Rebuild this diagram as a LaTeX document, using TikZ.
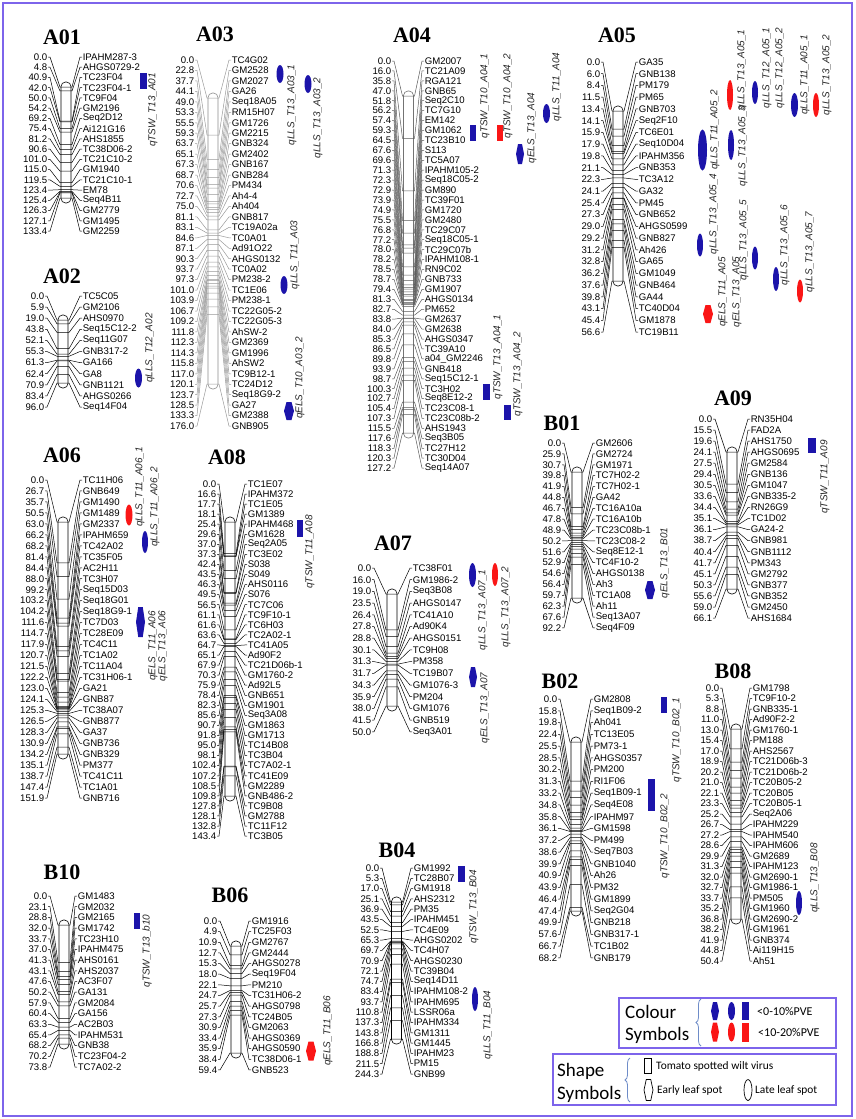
\documentclass[tikz,border=0pt]{standalone}
\usepackage{fontspec}
\setmainfont{Liberation Sans}
\newfontfamily\ttlfont{Liberation Serif}
\newfontfamily\legfont{Carlito}
\usetikzlibrary{shapes.geometric,decorations.pathreplacing}
\definecolor{qblue}{RGB}{28,20,170}
\definecolor{qred}{RGB}{250,22,22}
\definecolor{framecol}{RGB}{125,100,235}
\definecolor{bracecol}{RGB}{110,140,200}
\tikzset{
 num/.style={font=\fontsize{9.6}{10}\selectfont, inner sep=0.6pt, anchor=east},
 mkr/.style={font=\fontsize{9.6}{10}\selectfont, inner sep=0.6pt, anchor=west},
 ttl/.style={font=\ttlfont\bfseries\fontsize{22}{24}\selectfont, inner sep=0pt},
 chrline/.style={line width=0.5pt, black},
 chrbar/.style={line width=0.6pt, black, fill=white, rounded corners=4.5pt},
 qlab/.style={font=\itshape\fontsize{10}{11}\selectfont, rotate=90, inner sep=0pt, text=black!85},
 qrect/.style={rectangle, fill=#1, draw=none, inner sep=0pt},
 qell/.style={ellipse, fill=#1, draw=none, inner sep=0pt},
 leg/.style={font=\legfont\fontsize{19}{20}\selectfont, inner sep=0pt, anchor=west},
 legs/.style={font=\legfont\fontsize{12}{13}\selectfont, inner sep=0pt, anchor=west},
 legt/.style={font=\legfont\fontsize{11.4}{12}\selectfont, inner sep=0pt, anchor=west},
 legbox/.style={draw=framecol, line width=1.3pt},
 brc/.style={draw=bracecol, line width=0.8pt, decorate, decoration={brace, amplitude=5pt}},
}
% #1 id, #2 number right x, #3 bar centre x, #4 label left x, #5 first row y, #6 row step, #7 bar top, #8 bar bottom, #9 max cM
\newcommand\chromo[9]{%
  \draw[chrbar] (#3-5,#7-5) rectangle (#3+5,#8+5);
  \foreach \cm/\nm [count=\i] in \mk {%
    \pgfmathsetmacro\yr{#5+(\i-1)*#6}%
    \pgfmathsetmacro\yb{#7+\cm/#9*(#8-#7)}%
    \node[num] (#1n\i) at (#2,\yr) {\cm};
    \node[mkr] (#1m\i) at (#4,\yr) {\nm};
    \draw[chrline] (#1n\i.east) -- ++(2,0) -- (#3-6,\yb) -- (#3+6,\yb) -- ([xshift=-2pt]#1m\i.west) -- (#1m\i.west);
  }%
}
\newcommand\hexq[6]{% name, x, y, w, h, style
  \coordinate (#1) at (#2,#3);
  \path[#6] (#2-#4/2,#3) -- (#2-#4/4,#3-#5/2) -- (#2+#4/4,#3-#5/2) -- (#2+#4/2,#3) -- (#2+#4/4,#3+#5/2) -- (#2-#4/4,#3+#5/2) -- cycle;
}
\begin{document}
\begin{tikzpicture}[x=1pt,y=-1pt]
\useasboundingbox (0,0) rectangle (855,1119);
\draw[framecol, line width=1.5pt] (3,3) rectangle (852,1116);

% ---------------- A01
\node[ttl] (tA01) at (62,37) {A01};
\def\mk{0.0/IPAHM287-3,4.8/AHGS0729-2,40.9/TC23F04,42.0/TC23F04-1,50.0/TC9F04,54.2/GM2196,69.2/Seq2D12,75.4/Ai121G16,81.2/AHS1855,90.6/TC38D06-2,101.0/TC21C10-2,115.0/GM1940,119.5/TC21C10-1,123.4/EM78,125.4/Seq4B11,126.3/GM2779,127.1/GM1495,133.4/GM2259}
\chromo{A01}{48}{66}{82}{57}{10.24}{87}{198}{133.4}
\node[qrect=qblue, minimum width=7pt, minimum height=16pt] (sA01) at (143.5,81) {};
\node[qlab] (lA01) at (153,110) {qTSW\_T13\_A01};

% ---------------- A02
\node[ttl] (tA02) at (62,276) {A02};
\def\mk{0.0/TC5C05,5.9/GM2106,19.0/AHS0970,43.8/Seq15C12-2,52.1/Seq11G07,55.3/GNB317-2,61.3/GA166,62.4/GA8,70.9/GNB1121,83.4/AHGS0266,96.0/Seq14F04}
\chromo{A02}{45}{63}{82}{296}{11.1}{320}{383}{96.0}
\node[qell=qblue, minimum width=7pt, minimum height=19pt] (sA02) at (138.5,378) {};
\node[qlab] (lA02) at (150,348) {qLLS\_T12\_A02};

% ---------------- A03
\node[ttl] (tA03) at (215,34) {A03};
\begin{scope}[chrline/.style={line width=0.5pt, black!40}, chrbar/.style={line width=0.6pt, black!45, fill=white, rounded corners=4.5pt}]
\def\mk{0.0/TC4G02,22.8/GM2528,37.7/GM2027,44.1/GA26,49.0/Seq18A05,53.3/RM15H07,55.5/GM1726,59.3/GM2215,63.7/GNB324,65.1/GM2402,67.3/GNB167,68.7/GNB284,70.6/PM434,72.7/Ah4-4,75.0/Ah404,81.1/GNB817,83.1/TC19A02a,84.6/TC0A01,87.1/Ad91O22,90.3/AHGS0132,93.7/TC0A02,97.3/PM238-2,101.0/TC1E06,103.9/PM238-1,106.7/TC22G05-2,109.2/TC22G05-3,111.8/AhSW-2,112.3/GM2369,114.3/GM1996,115.8/AhSW2,117.0/TC9B12-1,120.1/TC24D12,123.7/Seq18G9-2,128.5/GA27,133.3/GM2388,176.0/GNB905}
\chromo{A03}{195}{213}{231}{60}{10.46}{98}{384}{176.0}
\end{scope}
\node[qell=qblue, minimum width=7pt, minimum height=18pt] (sA03a) at (280,74) {};
\node[qlab] (lA03a) at (292,105) {qLLS\_T13\_A03\_1};
\node[qell=qblue, minimum width=7pt, minimum height=18pt] (sA03b) at (308,84) {};
\node[qlab] (lA03b) at (318,118) {qLLS\_T13\_A03\_2};
\node[qell=qblue, minimum width=7pt, minimum height=18pt] (sA03c) at (284,285) {};
\node[qlab] (lA03c) at (295,255) {qLLS\_T11\_A03};
\hexq{sA03d}{289}{411}{10}{18}{fill=qblue}
\node[qlab] (lA03d) at (300,378) {qELS\_T10\_A03\_2};

% ---------------- A04
\node[ttl] (tA04) at (412,35) {A04};
\begin{scope}[chrline/.style={line width=0.5pt, black!65}, chrbar/.style={line width=0.6pt, black!55, fill=white, rounded corners=4.5pt}]
\def\mk{0.0/GM2007,16.0/TC21A09,35.8/RGA121,47.0/GNB65,51.8/Seq2C10,56.2/TC7G10,57.4/EM142,59.3/GM1062,64.5/TC23B10,67.6/S113,69.6/TC5A07,71.3/IPAHM105-2,72.3/Seq18C05-2,72.9/GM890,73.9/TC39F01,74.9/GM1720,75.5/GM2480,76.8/TC29C07,77.2/Seq18C05-1,78.0/TC29C07b,78.2/IPAHM108-1,78.5/RN9C02,78.7/GNB733,79.4/GM1907,81.3/AHGS0134,82.7/PM652,83.8/GM2637,84.0/GM2638,85.3/AHGS0347,86.5/TC39A10,89.8/a04\_GM2246,93.9/GNB418,98.7/Seq15C12-1,100.3/TC3H02,102.7/Seq8E12-2,105.4/TC23C08-1,107.3/TC23C08b-2,115.5/AHS1943,117.6/Seq3B05,118.3/TC27H12,120.3/TC30D04,127.2/Seq14A07}
\chromo{A04}{392}{408.5}{424}{61}{9.93}{96}{433}{127.2}
\end{scope}
\node[qrect=qblue, minimum width=6pt, minimum height=16pt] (sA04a) at (473,133) {};
\node[qlab] (lA04a) at (485,96) {qTSW\_T10\_A04\_1};
\node[qrect=qred, minimum width=6pt, minimum height=16pt] (sA04b) at (499.5,133) {};
\node[qlab] (lA04b) at (508,96) {qTSW\_T10\_A04\_2};
\hexq{sA04c}{520}{154}{8}{20}{fill=qblue}
\node[qlab] (lA04c) at (532,128) {qELS\_T13\_A04};
\node[qell=qblue, minimum width=7pt, minimum height=19pt] (sA04d) at (546.5,113.5) {};
\node[qlab] (lA04d) at (557,87) {qLLS\_T11\_A04};
\node[qrect=qblue, minimum width=7pt, minimum height=16pt] (sA04e) at (486.5,392) {};
\node[qlab] (lA04e) at (498,357) {qTSW\_T13\_A04\_1};
\node[qrect=qblue, minimum width=7pt, minimum height=15pt] (sA04f) at (507.5,412.5) {};
\node[qlab] (lA04f) at (518,374) {qTSW\_T13\_A04\_2};

% ---------------- A05
\node[ttl] (tA05) at (617,35) {A05};
\def\mk{0.0/GA35,6.0/GNB138,8.4/PM179,11.5/PM65,13.4/GNB703,14.1/Seq2F10,15.9/TC6E01,17.9/Seq10D04,19.8/IPAHM356,21.1/GNB353,22.3/TC3A12,24.1/GA32,25.4/PM45,27.3/GNB652,29.0/AHGS0599,29.2/GNB827,31.2/Ah426,32.8/GA65,36.2/GM1049,37.6/GNB464,39.8/GA44,43.1/TC40D04,45.4/GM1878,56.6/TC19B11}
\chromo{A05}{601}{618}{638}{62}{11.74}{111}{281}{56.6}
\node[qell=qred, minimum width=6pt, minimum height=30pt] (sA05a) at (730,95) {};
\node[qlab] (lA05a) at (742,70) {qLLS\_T13\_A05\_1};
\node[qell=qblue, minimum width=6pt, minimum height=23pt] (sA05b) at (755,92.5) {};
\node[qlab] (lA05b) at (767,68) {qLLS\_T12\_A05\_1};
\node[qlab] (lA05c) at (780,68) {qLLS\_T12\_A05\_2};
\node[qell=qblue, minimum width=7pt, minimum height=24pt] (sA05d) at (794.5,105) {};
\node[qlab] (lA05d) at (805,75) {qLLS\_T11\_A05\_1};
\node[qell=qred, minimum width=6pt, minimum height=24pt] (sA05e) at (816,105) {};
\node[qlab] (lA05e) at (827,75) {qLLS\_T13\_A05\_2};
\node[qell=qblue, minimum width=9pt, minimum height=41pt] (sA05f) at (702.5,150) {};
\node[qlab] (lA05f) at (715,130) {qLLS\_T11\_A05\_2};
\node[qell=qblue, minimum width=6pt, minimum height=30pt] (sA05g) at (731,145) {};
\node[qlab] (lA05g) at (743,146) {qLLS\_T13\_A05\_3};
\node[qell=qblue, minimum width=6pt, minimum height=23pt] (sA05h) at (700,245) {};
\node[qlab] (lA05h) at (714,214) {qLLS\_T13\_A05\_4};
\node[qell=qblue, minimum width=6pt, minimum height=23pt] (sA05i) at (755,258) {};
\node[qlab] (lA05i) at (744,240) {qLLS\_T13\_A05\_5};
\node[qell=qblue, minimum width=6pt, minimum height=24pt] (sA05j) at (776,279) {};
\node[qlab] (lA05j) at (785,245) {qLLS\_T13\_A05\_6};
\node[qell=qred, minimum width=6pt, minimum height=23pt] (sA05k) at (800,291) {};
\node[qlab] (lA05k) at (810,252) {qLLS\_T13\_A05\_7};
\hexq{sA05l}{708}{314}{10}{18}{fill=qred}
\node[qlab] (lA05l) at (723,292) {qELS\_T11\_A05};
\node[qlab] (lA05m) at (737,292) {qELS\_T13\_A05};

% ---------------- A06
\node[ttl] (tA06) at (62,455) {A06};
\def\mk{0.0/TC11H06,26.7/GNB649,35.7/GM1490,50.5/GM1489,63.0/GM2337,66.2/IPAHM659,68.2/TC42A02,81.4/TC35F05,84.4/AC2H11,88.0/TC3H07,99.2/Seq15D03,103.2/Seq18G01,104.2/Seq18G9-1,111.6/TC7D03,114.7/TC28E09,117.9/TC4C11,120.7/TC1A02,121.5/TC11A04,122.2/TC31H06-1,123.0/GA21,124.1/GNB87,125.3/TC38A07,126.5/GNB877,128.3/GA37,130.9/GNB736,134.2/GNB329,135.1/PM377,138.7/TC41C11,147.4/TC1A01,151.9/GNB716}
\chromo{A06}{45}{63}{82}{480}{10.97}{522}{754}{151.9}
\node[qell=qred, minimum width=7pt, minimum height=21pt] (sA06a) at (129,515) {};
\node[qlab] (lA06a) at (140,487) {qLLS\_T11\_A06\_1};
\node[qell=qblue, minimum width=6pt, minimum height=22pt] (sA06b) at (145,542) {};
\node[qlab] (lA06b) at (155,507) {qLLS\_T11\_A06\_2};
\hexq{sA06c}{140.5}{622}{9}{30}{fill=qblue}
\node[qlab] (lA06c) at (153,646) {qELS\_T11\_A06};
\node[qlab] (lA06d) at (163,646) {qELS\_T13\_A06};

% ---------------- A07
\node[ttl] (tA07) at (393,543) {A07};
\def\mk{0.0/TC38F01,16.0/GM1986-2,19.0/Seq3B08,23.5/AHGS0147,26.4/TC41A10,27.8/Ad90K4,28.8/AHGS0151,30.1/TC9H08,31.3/PM358,31.7/TC19B07,34.3/GM1076-3,35.9/PM204,38.0/GM1076,41.5/GNB519,50.0/Seq3A01}
\chromo{A07}{372}{392}{412}{568}{11.7}{594}{706}{50.0}
\node[qell=qblue, minimum width=7pt, minimum height=24pt] (sA07a) at (472.5,575) {};
\node[qlab] (lA07a) at (483,610) {qLLS\_T13\_A07\_1};
\node[qell=qred, minimum width=6pt, minimum height=23pt] (sA07b) at (495,574.5) {};
\node[qlab] (lA07b) at (506,607) {qLLS\_T13\_A07\_2};
\hexq{sA07c}{473}{677}{8}{20}{fill=qblue}
\node[qlab] (lA07c) at (485,708) {qELS\_T13\_A07};

% ---------------- A08
\node[ttl] (tA08) at (227,457) {A08};
\def\mk{0.0/TC1E07,16.6/IPAHM372,17.7/TC1E05,18.1/GM1389,25.4/IPAHM468,29.6/GM1628,37.0/Seq2A05,37.3/TC3E02,42.4/S038,43.5/S049,46.3/AHS0116,49.5/S076,56.5/TC7C06,61.1/TC9F10-1,61.6/TC6H03,63.6/TC2A02-1,64.7/TC41A05,65.1/Ad90F2,67.9/TC21D06b-1,70.3/GM1760-2,75.9/Ad92L5,78.4/GNB651,82.3/GM1901,85.6/Seq3A08,90.7/GM1863,91.8/GM1713,95.0/TC14B08,98.1/TC3B04,102.4/TC7A02-1,107.2/TC41E09,108.5/GM2289,109.8/GNB486-2,127.8/TC9B08,128.1/GM2788,132.8/TC11F12,143.4/TC3B05}
\chromo{A08}{217}{230}{247}{484}{10.06}{522}{796}{143.4}
\node[qrect=qblue, minimum width=6pt, minimum height=17pt] (sA08) at (300,528.5) {};
\node[qlab] (lA08) at (310,552) {qTSW\_T11\_A08};

% ---------------- A09
\node[ttl] (tA09) at (733,398) {A09};
\def\mk{0.0/RN35H04,15.5/FAD2A,19.6/AHS1750,24.1/AHGS0695,27.5/GM2584,29.4/GNB136,30.5/GM1047,33.6/GNB335-2,34.4/RN26G9,35.1/TC1D02,36.1/GA24-2,38.7/GNB981,40.4/GNB1112,41.7/PM343,45.1/GM2792,50.3/GNB377,55.6/GNB352,59.0/GM2450,66.1/AHS1684}
\chromo{A09}{713}{732}{750}{419}{11.06}{452}{589}{66.1}
\node[qrect=qblue, minimum width=8pt, minimum height=15pt] (sA09) at (812,445.5) {};
\node[qlab] (lA09) at (825,477) {qTSW\_T11\_A09};

% ---------------- B01
\node[ttl] (tB01) at (562,423) {B01};
\def\mk{0.0/GM2606,25.9/GM2724,30.7/GM1971,39.8/TC7H02-2,41.9/TC7H02-1,44.8/GA42,46.7/TC16A10a,47.8/TC16A10b,48.9/TC23C08b-1,50.2/TC23C08-2,51.6/Seq8E12-1,52.9/TC4F10-2,54.6/AHGS0138,56.4/Ah3,59.7/TC1A08,62.3/Ah11,67.6/Seq13A07,92.2/Seq4F09}
\chromo{B01}{562}{577}{595}{443}{10.88}{472}{598}{92.2}
\hexq{sB01}{650}{590}{10}{18}{fill=qblue}
\node[qlab] (lB01) at (665,563) {qELS\_T13\_B01};

% ---------------- B02
\node[ttl] (tB02) at (560,681) {B02};
\def\mk{0.0/GM2808,15.8/Seq1B09-2,19.8/Ah041,22.4/TC13E05,25.5/PM73-1,28.5/AHGS0357,30.2/PM200,31.3/RI1F06,33.2/Seq1B09-1,34.8/Seq4E08,35.8/IPAHM97,36.1/GM1598,37.2/PM499,38.6/Seq7B03,39.9/GNB1040,40.9/Ah26,43.9/PM32,46.4/GM1899,47.4/Seq2G04,49.9/GNB218,57.6/GNB317-1,66.7/TC1B02,68.2/GNB179}
\chromo{B02}{558}{576}{593}{699}{11.77}{742}{911}{68.2}
\node[qrect=qblue, minimum width=6pt, minimum height=16pt] (sB02a) at (664,705) {};
\node[qlab] (lB02a) at (677,740) {qTSW\_T10\_B02\_1};
\node[qrect=qblue, minimum width=7pt, minimum height=32pt] (sB02b) at (651.5,795) {};
\node[qlab] (lB02b) at (665,836) {qTSW\_T10\_B02\_2};

% ---------------- B04
\node[ttl] (tB04) at (397,850) {B04};
\def\mk{0.0/GM1992,5.3/TC28B07,17.0/GM1918,25.1/AHS2312,36.9/PM35,43.5/IPAHM451,52.5/TC4E09,65.3/AHGS0202,69.7/TC4H07,70.9/AHGS0230,72.1/TC39B04,74.7/Seq14D11,83.4/IPAHM108-2,93.7/IPAHM695,110.8/LSSR06a,137.3/IPAHM334,143.8/GM1311,166.8/GM1445,188.8/IPAHM23,211.5/PM15,244.3/GNB99}
\chromo{B04}{380}{396.5}{413}{868}{10.3}{902}{1039}{244.3}
\node[qrect=qblue, minimum width=7pt, minimum height=16pt] (sB04a) at (461.5,874) {};
\node[qlab] (lB04a) at (474,907) {qTSW\_T13\_B04};
\node[qell=qblue, minimum width=6pt, minimum height=24pt] (sB04b) at (475,999) {};
\node[qlab] (lB04b) at (488,1025) {qLLS\_T11\_B04};

% ---------------- B06
\node[ttl] (tB06) at (230,895) {B06};
\def\mk{0.0/GM1916,4.9/TC25F03,10.9/GM2767,12.7/GM2444,15.3/AHGS0278,18.0/Seq19F04,22.1/PM210,24.7/TC31H06-2,25.7/AHGS0798,27.3/TC24B05,30.9/GM2063,33.4/AHGS0369,35.9/AHGS0590,38.4/TC38D06-1,59.4/GNB523}
\chromo{B06}{218}{236}{251}{921}{10.64}{946}{1053}{59.4}
\hexq{sB06}{311}{1051}{10}{19}{fill=qred}
\node[qlab] (lB06) at (328,1031) {qELS\_T11\_B06};

% ---------------- B08
\node[ttl] (tB08) at (733,671) {B08};
\def\mk{0.0/GM1798,5.3/TC9F10-2,8.8/GNB335-1,11.0/Ad90F2-2,13.0/GM1760-1,15.4/PM188,17.0/AHS2567,18.9/TC21D06b-3,20.2/TC21D06b-2,21.0/TC20B05-2,22.1/TC20B05,23.3/TC20B05-1,25.2/Seq2A06,26.7/IPAHM229,27.2/IPAHM540,28.6/IPAHM606,29.9/GM2689,31.3/IPAHM123,32.0/GM2690-1,32.7/GM1986-1,33.7/PM505,35.2/GM1960,36.8/GM2690-2,38.2/GM1961,41.9/GNB374,44.8/Ai119H15,50.4/Ah51}
\chromo{B08}{720}{736}{752}{688}{10.5}{729}{919}{50.4}
\node[qell=qblue, minimum width=6pt, minimum height=24pt] (sB08) at (799,903) {};
\node[qlab] (lB08) at (815,878) {qLLS\_T13\_B08};

% ---------------- B10
\node[ttl] (tB10) at (62,872) {B10};
\def\mk{0.0/GM1483,23.1/GM2032,28.8/GM2165,32.0/GM1742,33.7/TC23H10,37.0/IPAHM475,41.3/AHS0161,43.1/AHS2037,47.6/AC3F07,50.2/GA131,57.9/GM2084,60.4/GA156,63.3/AC2B03,65.4/IPAHM531,68.2/GNB38,70.2/TC23F04-2,73.8/TC7A02-2}
\chromo{B10}{48}{64}{77}{896}{10.69}{925}{1044}{73.8}
\node[qrect=qblue, minimum width=6pt, minimum height=16pt] (sB10) at (137,921) {};
\node[qlab] (lB10) at (147,951) {qTSW\_T13\_b10};

% ---------------- legend: colour
\draw[legbox] (619,998) rectangle (836,1048);
\node[leg] (cl1) at (625,1012) {Colour};
\node[leg] (cl2) at (625,1035) {Symbols};
\draw[brc] (701,1046) -- (701,999);
\hexq{cb1}{715}{1011}{8}{18}{fill=qblue}
\node[qell=qblue, minimum width=7pt, minimum height=18pt] (cb2) at (731.5,1011) {};
\node[qrect=qblue, minimum width=7pt, minimum height=18pt] (cb3) at (745.5,1011) {};
\hexq{cr1}{715}{1032}{8}{19}{fill=qred}
\node[qell=qred, minimum width=7pt, minimum height=19pt] (cr2) at (731.5,1032) {};
\node[qrect=qred, minimum width=7pt, minimum height=19pt] (cr3) at (745.5,1032) {};
\node[legs] (ct1) at (757,1011) {<0-10\%PVE};
\node[legs] (ct2) at (758,1032) {<10-20\%PVE};

% ---------------- legend: shape
\draw[legbox] (553,1054) rectangle (836,1105);
\node[leg] (sl1) at (557,1071) {Shape};
\node[leg] (sl2) at (557,1094) {Symbols};
\draw[brc] (630,1102) -- (630,1058);
\node[draw, line width=0.7pt, rectangle, minimum width=7pt, minimum height=15pt, inner sep=0pt] (ss1) at (648,1066) {};
\node[legt] (st1) at (656,1066) {Tomato spotted wilt virus};
\hexq{ss2}{648.5}{1090}{9}{21}{draw, line width=0.7pt}
\node[legt] (st2) at (657,1090) {Early leaf spot};
\node[draw, line width=0.7pt, ellipse, minimum width=8pt, minimum height=21pt, inner sep=0pt] (ss3) at (748,1090) {};
\node[legt] (st3) at (755,1090) {Late leaf spot};
\end{tikzpicture}
\end{document}
